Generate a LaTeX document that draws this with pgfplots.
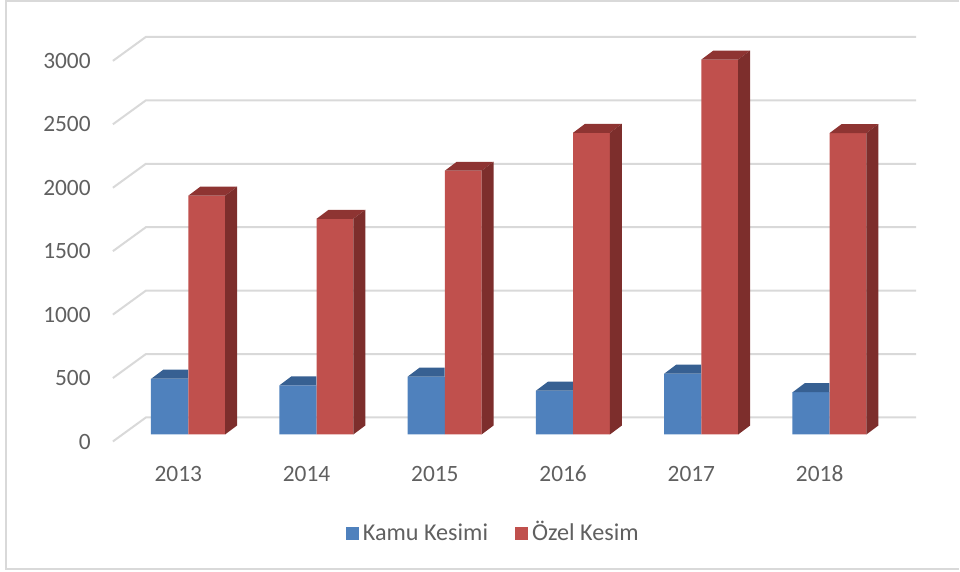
\documentclass[border=0pt]{standalone}
\usepackage{fontspec}
\setmainfont{Carlito}
\usepackage{pgfplots}
\usepackage{pgfplotstable}
\pgfplotsset{compat=1.18}
\definecolor{txt}{RGB}{96,96,96}
\definecolor{gridc}{RGB}{217,217,217}
\definecolor{blueF}{RGB}{79,129,189}
\definecolor{blueT}{RGB}{55,96,146}
\definecolor{redF}{RGB}{192,80,77}
\definecolor{redT}{RGB}{142,52,50}
\definecolor{redS}{RGB}{125,46,44}

% x: category index at 0,1,..; offsets put the bars behind the front-plane labels
\pgfplotstableread{
x y
0 440
1 388
2 457
3 346
4 480
5 333
}\kamu
\pgfplotstableread{
x y
0 1882
1 1700
2 2079
3 2378
4 2955
5 2376
}\ozel

% 3D faces, drawn from the top centre of each front face (1px = .5pt)
\pgfdeclareplotmark{topface}{%
  \pgfpathmoveto{\pgfqpoint{-9.2pt}{0pt}}%
  \pgfpathlineto{\pgfqpoint{-3.2pt}{4.5pt}}%
  \pgfpathlineto{\pgfqpoint{15.2pt}{4.5pt}}%
  \pgfpathlineto{\pgfqpoint{9.2pt}{0pt}}%
  \pgfpathclose\pgfusepathqfill}
% the blue top stops where the taller red bar starts
\pgfdeclareplotmark{topfacecut}{%
  \pgfpathmoveto{\pgfqpoint{-9.2pt}{0pt}}%
  \pgfpathlineto{\pgfqpoint{-3.2pt}{4.5pt}}%
  \pgfpathlineto{\pgfqpoint{9.2pt}{4.5pt}}%
  \pgfpathlineto{\pgfqpoint{9.2pt}{0pt}}%
  \pgfpathclose\pgfusepathqfill}
\pgfdeclareplotmark{sideface}{%
  \pgfmathsetlengthmacro{\barh}{\barv*0.0635}%
  \pgfpathmoveto{\pgfqpoint{9.2pt}{0pt}}%
  \pgfpathlineto{\pgfqpoint{15.2pt}{4.5pt}}%
  \pgfpathlineto{\pgfpoint{15.2pt}{4.5pt-\barh}}%
  \pgfpathlineto{\pgfpoint{9.2pt}{-\barh}}%
  \pgfpathclose\pgfusepathqfill}

\begin{document}
\begin{tikzpicture}
\begin{axis}[
  scale only axis, width=402pt, height=202.5pt,
  xmin=-0.5023, xmax=5.759, ymin=-55, ymax=3134,
  clip=false, axis line style={draw=none}, major tick length=0pt,
  xtick={0,...,5}, xticklabels={2013,2014,2015,2016,2017,2018},
  ytick={-55,445,945,1445,1945,2445,2945},
  yticklabels={0,500,1000,1500,2000,2500,3000},
  tick label style={font=\fontsize{11.7}{12}\selectfont, text=txt},
  /pgf/number format/assume math mode=true,
  yticklabel style={anchor=east, xshift=-7.6pt, text height=7.6pt, text depth=0pt},
  xticklabel style={anchor=north, xshift=.5pt, yshift=-9pt, text height=7.6pt, text depth=0pt},
  legend columns=2,
  legend style={draw=none, fill=none, font=\fontsize{12.1}{13}\selectfont,
    text=txt, at={(axis cs:2.47,-780)}, anchor=center,
    nodes={text height=9.5pt, text depth=2.5pt},
    /tikz/every even column/.append style={column sep=11.5pt}},
  legend image code/.code={\fill[#1] (-1pt,-3.3pt) rectangle (5.6pt,3.3pt);},
]
% chart frame and page size
\path (axis cs:-1.3824,-1079) rectangle (axis cs:6.0942,3425);
\draw[gridc, line width=1pt] (axis cs:6.0942,3417) -- (axis cs:-1.3357,3417)
  -- (axis cs:-1.3357,-1063) -- (axis cs:6.0942,-1063);

% floor and wall lines
\addplot[forget plot, gridc, line width=1pt] coordinates {(-0.5023,-55)(-0.245,134)(5.759,134)};
\addplot[forget plot, gridc, line width=1pt] coordinates {(-0.5023,445)(-0.245,634)(5.759,634)};
\addplot[forget plot, gridc, line width=1pt] coordinates {(-0.5023,945)(-0.245,1134)(5.759,1134)};
\addplot[forget plot, gridc, line width=1pt] coordinates {(-0.5023,1445)(-0.245,1634)(5.759,1634)};
\addplot[forget plot, gridc, line width=1pt] coordinates {(-0.5023,1945)(-0.245,2134)(5.759,2134)};
\addplot[forget plot, gridc, line width=1pt] coordinates {(-0.5023,2445)(-0.245,2634)(5.759,2634)};
\addplot[forget plot, gridc, line width=1pt] coordinates {(-0.5023,2945)(-0.245,3134)(5.759,3134)};

% Kamu Kesimi
\addplot[forget plot, only marks, mark=topfacecut, mark options={fill=blueT, draw=none}]
  table[x expr=\thisrow{x}-0.0596, y=y] {\kamu};
\addplot[ybar, bar width=18.7pt, bar shift=0pt, fill=blueF, draw=none]
  table[x expr=\thisrow{x}-0.0596, y=y] {\kamu};
\addlegendentry{Kamu Kesimi}

% Özel Kesim
\addplot[forget plot, only marks, mark=topface, mark options={fill=redT, draw=none}]
  table[x expr=\thisrow{x}+0.2286, y=y] {\ozel};
\addplot[forget plot, only marks, mark=sideface, mark options={fill=redS, draw=none},
    visualization depends on={rawy\as\barv}]
  table[x expr=\thisrow{x}+0.2286, y=y] {\ozel};
\addplot[ybar, bar width=18.4pt, bar shift=0pt, fill=redF, draw=none]
  table[x expr=\thisrow{x}+0.2286, y=y] {\ozel};
\addlegendentry{Özel Kesim}
\end{axis}
\end{tikzpicture}
\end{document}
